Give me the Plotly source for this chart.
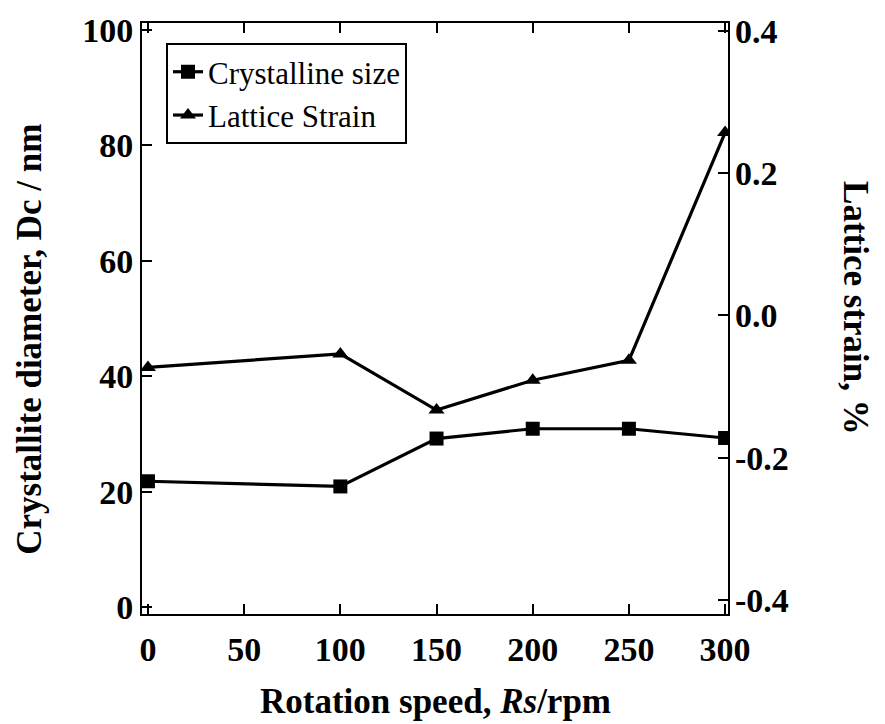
import plotly.graph_objects as go

speed = [0, 100, 150, 200, 250, 300]
crystal_size = [21.8, 20.9, 29.2, 30.9, 30.9, 29.3]
lattice_strain = [-0.073, -0.054, -0.133, -0.091, -0.063, 0.257]

x_ticks = [0, 50, 100, 150, 200, 250, 300]
y1_ticks = [0, 20, 40, 60, 80, 100]
y2_ticks = [-0.4, -0.2, 0.0, 0.2, 0.4]
y2_labels = ["-0.4", "-0.2", "0.0", "0.2", "0.4"]

FONT = "Liberation Serif, Times New Roman, serif"
tickfont = dict(family=FONT, size=34, color="black", weight="bold")

fig = go.Figure()
fig.add_trace(go.Scatter(
    x=speed, y=crystal_size, name="Crystalline size", mode="lines+markers",
    line=dict(color="black", width=3.2),
    marker=dict(symbol="square", size=14, color="black"),
    yaxis="y"))
fig.add_trace(go.Scatter(
    x=speed, y=lattice_strain, name="Lattice Strain", mode="lines+markers",
    line=dict(color="black", width=3.2),
    marker=dict(symbol="triangle-up", size=14, color="black"),
    yaxis="y2"))

L, R, T, B = 142, 157, 17, 110
pw, ph = 885 - L - R, 724 - T - B

def px2paper(px, py):
    return (px - L) / pw, (724 - B - py) / ph

ax, ay = px2paper(435, 702)
lx, ly = px2paper(30, 337)
rx, ry = px2paper(856, 305)

fig.update_layout(
    width=885, height=724,
    margin=dict(l=L, r=R, t=T, b=B),
    paper_bgcolor="white", plot_bgcolor="white",
    font=dict(family=FONT, color="black"),
    showlegend=True,
    legend=dict(x=0.041, y=0.966, xanchor="left", yanchor="top",
                bordercolor="black", borderwidth=2, bgcolor="white",
                font=dict(family="Liberation Serif", size=31, color="black"),
                tracegroupgap=0, itemwidth=30),
    xaxis=dict(range=[-3.1, 301.5], tickvals=x_ticks, ticks="inside", ticklen=10,
               tickwidth=2, tickcolor="black", showline=True, linecolor="black",
               linewidth=2, mirror="ticks", showgrid=False, zeroline=False,
               tickfont=tickfont, ticklabelstandoff=4),
    yaxis=dict(range=[-1.2, 101.2], tickvals=y1_ticks, ticks="inside", ticklen=10,
               tickwidth=2, tickcolor="black", showline=True, linecolor="black",
               linewidth=2, mirror=True, showgrid=False, zeroline=False,
               tickfont=tickfont, ticklabelstandoff=0),
    yaxis2=dict(range=[-0.4195, 0.411], tickvals=y2_ticks, ticktext=y2_labels,
                overlaying="y", side="right", ticks="inside", ticklen=10,
                tickwidth=2, tickcolor="black", showline=False, showgrid=False,
                zeroline=False, tickfont=tickfont, ticklabelstandoff=6),
    annotations=[
        dict(text="Rotation speed, <i>Rs</i>/rpm", x=ax, y=ay, xref="paper", yref="paper",
             xanchor="center", yanchor="middle", showarrow=False,
             font=dict(family=FONT, size=35, color="black", weight="bold")),
        dict(text="Crystallite diameter, Dc / nm", x=lx, y=ly, xref="paper", yref="paper",
             xanchor="center", yanchor="middle", showarrow=False, textangle=-90,
             font=dict(family=FONT, size=35, color="black", weight="bold")),
        dict(text="Lattice strain, %", x=rx, y=ry, xref="paper", yref="paper",
             xanchor="center", yanchor="middle", showarrow=False, textangle=90,
             font=dict(family=FONT, size=35, color="black", weight="bold")),
    ],
)

fig.write_html("out.html")
